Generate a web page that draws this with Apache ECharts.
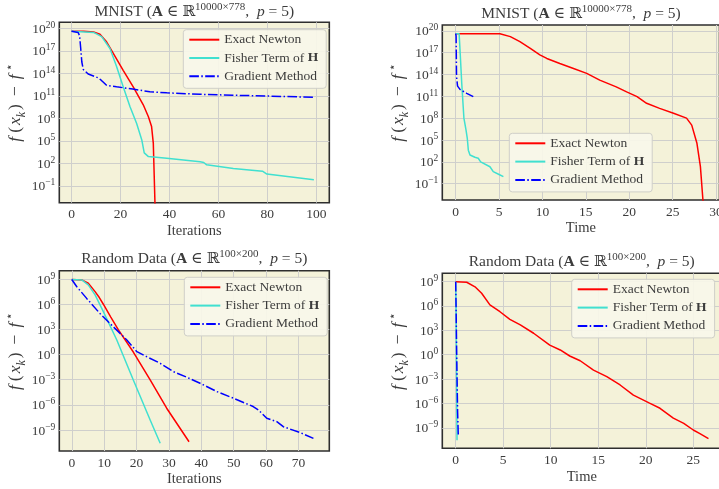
<!DOCTYPE html>
<html><head><meta charset="utf-8">
<script src="https://cdn.jsdelivr.net/npm/echarts@6/dist/echarts.min.js"></script>
<style>html,body{margin:0;padding:0;background:#fff}#c{width:719px;height:489px}</style>
</head><body><div id="c"></div>
<script>
// ---------- data ----------
const seriesNames = ['Exact Newton', 'Fisher Term of H', 'Gradient Method'];

// MNIST, vs iterations
const mnistIterNewton = [[0,4e19],[5,4e19],[9,3.2e19],[11.6,1.6e19],[14.3,1.6e18],[17,5e16],[21.1,2.5e14],[25.2,1.6e12],[29.3,6.3e9],[31.4,1.6e8],[32.7,7.9e6],[33.4,5e4],[34.1,3.2e-4],[34.5,1e-12]];
const mnistIterFisher = [[0,4e19],[9,2.8e19],[12.3,7.9e18],[15.7,2e17],[18.4,7.9e14],[21.1,1.6e12],[23.9,3.5e9],[26.6,2e7],[28.7,1.3e5],[29.7,2.5e3],[31.4,790],[38.9,470],[52.5,160],[54,130],[55.2,63],[66.1,21],[78,8.9],[79.8,3.7],[99,0.63]];
const mnistIterGrad = [[0,4e19],[2.7,2.8e19],[3.3,1e19],[3.7,3.2e17],[4.2,3.2e15],[4.8,3.2e14],[6.8,7.9e13],[10.9,2.5e13],[12,1.3e13],[14.3,2.5e12],[18.4,1.6e12],[25,7.9e11],[32,3.5e11],[38.9,2.5e11],[52.5,1.6e11],[66,1.2e11],[80,9.3e10],[99,6.3e10]];

// MNIST, vs time
const mnistTimeNewton = [[0,4e19],[5.1,4e19],[6.3,1.6e19],[7.4,3.2e18],[8.6,4e17],[9.7,5e16],[10.5,1.6e16],[12,3.2e15],[13.5,7.1e14],[15.1,1.4e14],[16.6,1.7e13],[18.5,2e12],[19.7,4e11],[20.9,8.9e10],[22,1.1e10],[23.5,2.2e9],[25.1,4.7e8],[26.6,1e8],[27.2,1.1e7],[27.8,3.5e4],[28.2,22],[28.5,4e-4],[28.9,1e-12]];
const mnistTimeFisher = [[0,4e19],[0.4,4e19],[0.5,2.5e17],[0.7,6.3e12],[0.95,1e8],[1.19,2.5e6],[1.34,1.6e5],[1.46,4e3],[1.65,870],[2.22,420],[2.6,310],[2.88,100],[3.95,21],[4.33,4.5],[5.0,1.8],[5.5,0.9]];
const mnistTimeGrad = [[0,4e19],[0.05,2e19],[0.08,1e16],[0.1,5e13],[0.22,2.5e12],[0.5,9e11],[1.27,2.5e11],[2.03,8.9e10]];

// Random data, vs iterations
const randIterNewton = [[0,9e8],[3.1,7.9e8],[5.1,3.2e8],[7.2,3.2e7],[8.5,6.3e6],[9.75,1e6],[12,3.2e4],[14.4,890],[19,2],[24.2,9.3e-4],[29.3,4e-7],[36.2,4e-11]];
const randIterFisher = [[0,9e8],[3.1,7.9e8],[5.1,2e8],[7.2,1.3e7],[9.75,1.3e5],[13.9,55],[19,9.3e-4],[24.2,1.6e-8],[27.3,2.7e-11]];
const randIterGrad = [[0,9e8],[1.5,1.3e8],[4.6,5e6],[8.7,7.9e4],[12.8,2.1e3],[17,55],[20.1,2.2],[23.1,0.56],[27.3,0.091],[31.4,9.1e-3],[35.5,2e-3],[39.6,3.8e-4],[44.8,3.8e-5],[49.9,6.3e-6],[56,6.3e-7],[57.6,2.5e-7],[60.2,2.5e-8],[63.3,1e-8],[65.3,2.5e-9],[70.5,5e-10],[74.6,1e-10]];

// Random data, vs time
const randTimeNewton = [[0,9e8],[1.16,7.9e8],[2.03,2.2e8],[2.73,3.5e7],[3.6,1.3e6],[4.66,1.9e5],[5.7,2.2e4],[6.8,4.5e3],[8.2,430],[9.9,15],[11,3.8],[12,0.69],[13.1,0.18],[14.5,0.013],[15.9,2e-3],[17.3,1.9e-4],[18.7,1.1e-5],[20.4,1.1e-6],[21.5,2.6e-7],[22.9,1.6e-8],[24,3.7e-9],[25,5.6e-10],[25.7,2e-10],[26.6,5e-11]];
const randTimeFisher = [[0,9e8],[0.02,8e8],[0.05,1e5],[0.08,1],[0.11,1e-5],[0.14,3e-11]];
const randTimeGrad = [[0,9e8],[0.05,1e5],[0.1,2],[0.15,4e-4],[0.2,1e-7],[0.27,1.6e-10]];

// tick labels
const xTicksMnistIter = [0,20,40,60,80,100];
const xTicksMnistTime = [0,5,10,15,20,25,30];
const xTicksRandIter = [0,10,20,30,40,50,60,70];
const xTicksRandTime = [0,5,10,15,20,25];
const yTicksMnist = [1e-1,1e2,1e5,1e8,1e11,1e14,1e17,1e20];
const yTicksRand = [1e-9,1e-6,1e-3,1e0,1e3,1e6,1e9];

// ---------- styling ----------
const FONT = '"Liberation Serif","DejaVu Serif",serif';
const TXT = '#3c3c3c';
const colors = ['#ff0000', '#40e0d0', '#0000ff'];
const lineTypes = ['solid', 'solid', [9.6, 2.4, 1.5, 2.4]];

const titleMnist = '{n|MNIST (}{b|A}{n| \u2208 \u211D}{sup|10000\u00D7778}{n|,  }{i|p}{n| = 5)}';
const titleRand = '{n|Random Data (}{b|A}{n| \u2208 \u211D}{sup|100\u00D7200}{n|,  }{i|p}{n| = 5)}';
const yName = '{f|f}{p|(}{x|x}{sub|k}{p|)}{m|\u2212}{f|f}{sup|\u22C6}';

const panels = [
  {grid:{left:59.3, top:22.3, width:270, height:180.4}, x:[-5,105.3], xt:xTicksMnistIter, y:[Math.pow(10,-3.25), Math.pow(10,20.8)], yt:yTicksMnist, xname:'Iterations', data:[mnistIterNewton, mnistIterFisher, mnistIterGrad], legend:{left:183.3, top:29.7}, title:{cx:194.3, top:2, text:titleMnist}},
  {grid:{left:442.3, top:25, width:277.2, height:175}, x:[-1.54,30.4], xt:xTicksMnistTime, y:[Math.pow(10,-3.25), Math.pow(10,20.8)], yt:yTicksMnist, xname:'Time', data:[mnistTimeNewton, mnistTimeFisher, mnistTimeGrad], legend:{left:509.3, top:133.3}, title:{cx:581, top:4, text:titleMnist}},
  {grid:{left:59.3, top:270.7, width:270, height:180.3}, x:[-3.85,79.5], xt:xTicksRandIter, y:[Math.pow(10,-11.5), Math.pow(10,10)], yt:yTicksRand, xname:'Iterations', data:[randIterNewton, randIterFisher, randIterGrad], legend:{left:184.3, top:277.3}, title:{cx:194.3, top:249, text:titleRand}},
  {grid:{left:442.3, top:273.3, width:279, height:175}, x:[-1.41,27.95], xt:xTicksRandTime, y:[Math.pow(10,-11.5), Math.pow(10,10)], yt:yTicksRand, xname:'Time', data:[randTimeNewton, randTimeFisher, randTimeGrad], legend:{left:571.7, top:279.3}, title:{cx:581.7, top:252, text:titleRand}}
];

function expLabel(v) {
  const e = Math.round(Math.log10(v));
  return '{n|10}{s|' + (e < 0 ? '\u2212' + (-e) : String(e)) + '}';
}

const YN = 17.5;
const option = {
  animation: false,
  backgroundColor: '#ffffff',
  title: panels.map(p => ({
    text: p.title.text, left: p.title.cx, top: p.title.top, textAlign: 'center', padding: 0,
    textStyle: {fontFamily: FONT, fontSize: 15.5, fontWeight: 'normal', color: TXT,
      rich: {
        n: {fontFamily: FONT, fontSize: 15.5, color: TXT, verticalAlign: 'bottom'},
        b: {fontFamily: FONT, fontSize: 15.5, color: TXT, fontWeight: 'bold', verticalAlign: 'bottom'},
        i: {fontFamily: FONT, fontSize: 15.5, color: TXT, fontStyle: 'italic', verticalAlign: 'bottom'},
        sup: {fontFamily: FONT, fontSize: 11, color: TXT, verticalAlign: 'bottom', padding: [0,0,7,0]}
      }}
  })),
  grid: panels.map(p => Object.assign({show: true, backgroundColor: '#f4f2d9', borderColor: '#2e2e2e', borderWidth: 1.6, containLabel: false, outerBoundsMode: 'none'}, p.grid)),
  legend: panels.map(p => ({
    show: true, orient: 'vertical', left: p.legend.left, top: p.legend.top, data: seriesNames,
    itemWidth: 30, itemHeight: 12, itemGap: 2.3, padding: [2, 8, 4, 5],
    backgroundColor: 'rgba(248,247,234,0.9)', borderColor: '#cfcfc8', borderWidth: 1, borderRadius: 3,
    selectedMode: false,
    itemStyle: {opacity: 0},
    formatter: n => n === 'Fisher Term of H' ? '{n|Fisher Term of }{b|H}' : '{n|' + n + '}',
    textStyle: {fontFamily: FONT, fontSize: 13.5, color: TXT, lineHeight: 16,
      rich: {n: {fontFamily: FONT, fontSize: 13.5, color: TXT}, b: {fontFamily: FONT, fontSize: 13.5, color: TXT, fontWeight: 'bold'}}}
  })),
  xAxis: panels.map((p, i) => ({
    type: 'value', gridIndex: i, min: p.x[0], max: p.x[1],
    axisLine: {show: false},
    axisTick: {show: false, customValues: p.xt},
    axisLabel: {customValues: p.xt, margin: 5, fontFamily: FONT, fontSize: 13.5, color: TXT},
    splitLine: {show: true, lineStyle: {color: '#cfcfcc', width: 1}},
    name: p.xname, nameLocation: 'middle', nameGap: 21,
    nameTextStyle: {fontFamily: FONT, fontSize: 14.5, color: TXT}
  })),
  yAxis: panels.map((p, i) => ({
    type: 'log', logBase: 10, gridIndex: i, min: p.y[0], max: p.y[1],
    axisLine: {show: false},
    axisTick: {show: false, customValues: p.yt},
    axisLabel: {customValues: p.yt, margin: 4, formatter: expLabel,
      rich: {
        n: {fontFamily: FONT, fontSize: 13.5, color: TXT, verticalAlign: 'bottom'},
        s: {fontFamily: FONT, fontSize: 9.5, color: TXT, verticalAlign: 'bottom', padding: [0,0,6,0]}
      }},
    splitLine: {show: true, lineStyle: {color: '#cfcfcc', width: 1}},
    minorTick: {show: false}, minorSplitLine: {show: false},
    name: yName, nameLocation: 'middle', nameGap: 31,
    nameTextStyle: {fontFamily: FONT, fontSize: YN, color: TXT, padding: [0, 0, 0, 20],
      rich: {
        f: {fontFamily: FONT, fontSize: YN, color: TXT, fontStyle: 'italic', verticalAlign: 'bottom', padding: [0,3,3,0]},
        x: {fontFamily: FONT, fontSize: YN, color: TXT, fontStyle: 'italic', verticalAlign: 'bottom', padding: [0,0,3,1]},
        p: {fontFamily: FONT, fontSize: YN, color: TXT, verticalAlign: 'bottom', padding: [0,1,3,1]},
        m: {fontFamily: FONT, fontSize: YN, color: TXT, verticalAlign: 'bottom', padding: [0,7,3,7]},
        sub: {fontFamily: FONT, fontSize: 12, color: TXT, fontStyle: 'italic', verticalAlign: 'bottom', padding: [0,1,0,0]},
        sup: {fontFamily: FONT, fontSize: 12, color: TXT, verticalAlign: 'bottom', padding: [0,0,12,0]}
      }}
  })),
  series: []
};

panels.forEach((p, i) => {
  seriesNames.forEach((name, k) => {
    option.series.push({
      type: 'line', name: name, xAxisIndex: i, yAxisIndex: i, data: p.data[k],
      symbol: 'none', showSymbol: false, clip: true, smooth: false,
      lineStyle: {color: colors[k], width: 1.5, type: lineTypes[k]},
      itemStyle: {color: colors[k]},
      emphasis: {disabled: true}
    });
  });
});

const chart = echarts.init(document.getElementById('c'), null, {renderer: 'canvas'});
chart.setOption(option);
</script></body></html>
